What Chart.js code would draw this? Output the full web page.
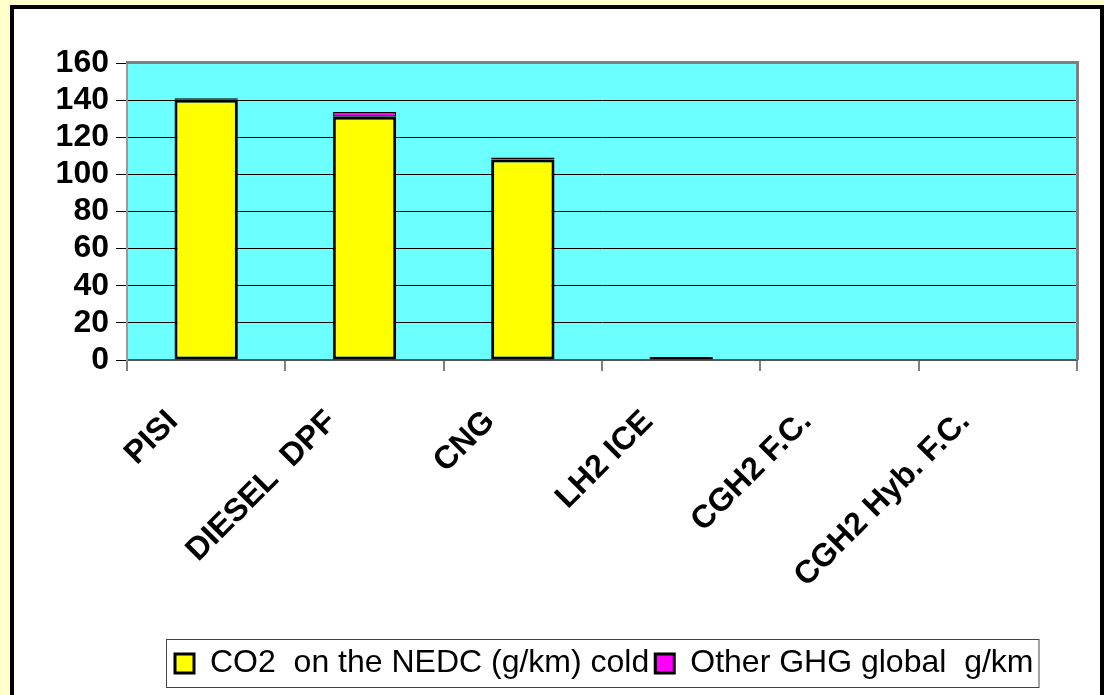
<!DOCTYPE html>
<html>
<head>
<meta charset="utf-8">
<script src="https://cdn.jsdelivr.net/npm/chart.js@4/dist/chart.umd.min.js"></script>
<style>
  html, body { margin: 0; padding: 0; background: #FFFFCC; }
  #wrap { width: 1104px; height: 695px; }
</style>
</head>
<body>
<div id="wrap"><canvas id="c" width="1104" height="695"></canvas></div>
<script>
// Vehicle pathways
const categories = ['PISI', 'DIESEL  DPF', 'CNG', 'LH2 ICE', 'CGH2 F.C.', 'CGH2 Hyb. F.C.'];
// CO2 on the NEDC cold cycle, g/km
const co2Cold = [140.2, 131, 108, 0, 0, 0];
// Other greenhouse gases, global, g/km
const otherGhg = [0.8, 2.6, 1.1, 1.6, 0, 0];
// Y axis tick values
const yTicks = [0, 20, 40, 60, 80, 100, 120, 140, 160];
const seriesNames = ['CO2  on the NEDC (g/km) cold', 'Other GHG global  g/km'];
const seriesColors = ['#FFFF00', '#FF00FF'];

const FONT = "'Liberation Sans', Arial, sans-serif";

// Page, panel and plot-area backgrounds plus plot frame and legend box
const framePlugin = {
  id: 'frame',
  beforeDraw(chart) {
    const ctx = chart.ctx;
    const a = chart.chartArea;
    ctx.save();
    ctx.fillStyle = '#FFFFCC';
    ctx.fillRect(0, 0, chart.width, chart.height);
    ctx.fillStyle = '#FFFFFF';
    ctx.fillRect(12, 7, 1090, 700);
    ctx.strokeStyle = '#000000';
    ctx.lineWidth = 4;
    ctx.strokeRect(12, 7, 1090, 700);
    ctx.fillStyle = '#6BFFFF';
    ctx.fillRect(a.left, a.top, a.right - a.left, a.bottom - a.top);
    ctx.restore();
  },
  afterDraw(chart) {
    const ctx = chart.ctx;
    const a = chart.chartArea;
    ctx.save();
    // plot frame: heavy grey on top and right
    ctx.strokeStyle = '#808080';
    ctx.lineWidth = 3;
    ctx.beginPath();
    ctx.moveTo(a.left - 1, a.top - 0.5);
    ctx.lineTo(a.right + 0.5, a.top - 0.5);
    ctx.lineTo(a.right + 0.5, a.bottom);
    ctx.stroke();

    // legend
    ctx.font = '32px ' + FONT;
    ctx.textBaseline = 'middle';
    ctx.textAlign = 'left';
    const box = 19, gapAfterBox = 16, gapBetween = 6;
    let total = 0;
    seriesNames.forEach((n, i) => {
      total += box + gapAfterBox + ctx.measureText(n).width;
      if (i < seriesNames.length - 1) total += gapBetween;
    });
    const padL = 9, padR = 5;
    const cx = (a.left + a.right) / 2;
    const bx = Math.round(cx - (total + padL + padR) / 2);
    const by = 639, bh = 48;
    ctx.strokeStyle = '#444444';
    ctx.lineWidth = 1;
    ctx.strokeRect(bx + 0.5, by + 0.5, total + padL + padR, bh);
    let x = bx + padL;
    const my = by + bh / 2 + 0.5;
    seriesNames.forEach((n, i) => {
      ctx.fillStyle = seriesColors[i];
      ctx.fillRect(x, my - box / 2, box, box);
      ctx.strokeStyle = '#000000';
      ctx.lineWidth = 3;
      ctx.strokeRect(x, my - box / 2, box, box);
      x += box + gapAfterBox;
      ctx.fillStyle = '#000000';
      ctx.fillText(n, x, my);
      x += ctx.measureText(n).width + gapBetween;
    });
    ctx.restore();
  }
};

new Chart(document.getElementById('c'), {
  type: 'bar',
  data: {
    labels: categories,
    datasets: [
      {
        label: seriesNames[0],
        data: co2Cold,
        backgroundColor: seriesColors[0],
        borderColor: '#000000',
        borderWidth: 3,
        borderSkipped: false
      },
      {
        label: seriesNames[1],
        data: otherGhg,
        backgroundColor: seriesColors[1],
        borderColor: '#000000',
        borderWidth: 1.5,
        borderSkipped: false
      }
    ]
  },
  options: {
    responsive: false,
    animation: false,
    devicePixelRatio: 1,
    layout: { padding: { top: 63, left: 13, right: 27, bottom: 85 } },
    categoryPercentage: 0.8,
    barPercentage: 0.5,
    plugins: {
      legend: { display: false },
      tooltip: { enabled: false }
    },
    scales: {
      x: {
        stacked: true,
        grid: {
          offset: true,
          drawOnChartArea: false,
          drawTicks: true,
          tickLength: 11,
          color: '#808080',
          lineWidth: 2
        },
        border: { color: '#555555', width: 2 },
        ticks: {
          autoSkip: false,
          maxRotation: 45,
          minRotation: 45,
          color: '#000000',
          padding: 32,
          labelOffset: -33,
          font: { family: FONT, size: 32, weight: 'bold' }
        },
        afterFit(scale) { scale.height = 250; }
      },
      y: {
        stacked: true,
        min: 0,
        max: 160,
        afterBuildTicks(scale) { scale.ticks = yTicks.map(v => ({ value: v })); },
        grid: {
          color: '#000000',
          lineWidth: 1,
          tickLength: 11
        },
        border: { color: '#9a9a9a', width: 2 },
        ticks: {
          autoSkip: false,
          color: '#000000',
          padding: 7,
          font: { family: FONT, size: 32, weight: 'bold' }
        },
        afterFit(scale) { scale.width = 114; }
      }
    }
  },
  plugins: [framePlugin]
});
</script>
</body>
</html>
